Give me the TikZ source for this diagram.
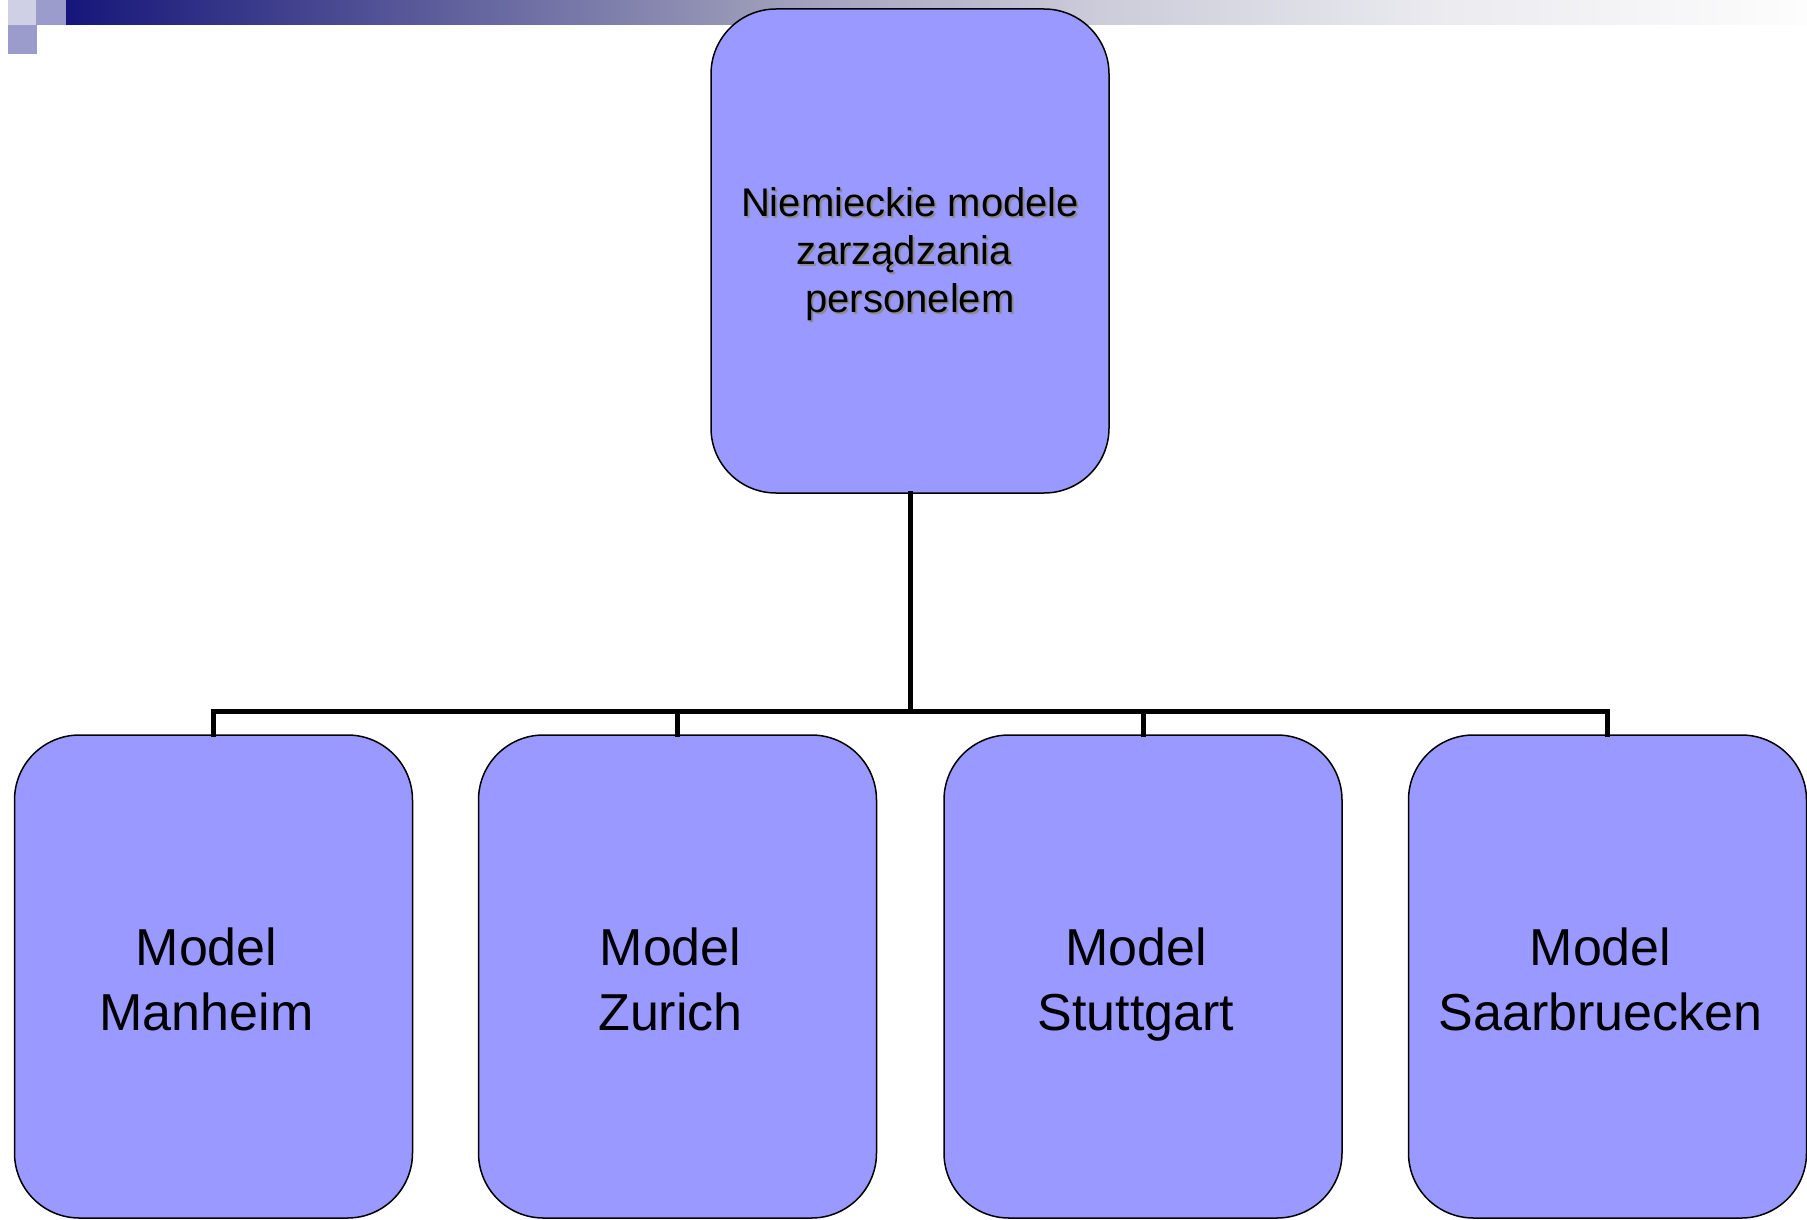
\documentclass[tikz,border=0pt]{standalone}
\usepackage{fontspec}
\setmainfont{Liberation Sans}
\usetikzlibrary{positioning}

% colours of the slide template and the chart
\definecolor{boxfill}{RGB}{153,153,255}
\definecolor{navy}{RGB}{22,22,122}
\definecolor{tileA}{RGB}{207,207,230}
\definecolor{tileB}{RGB}{155,155,204}
\definecolor{barB}{RGB}{155,155,185}
\definecolor{barC}{RGB}{204,204,218}
\definecolor{barD}{RGB}{235,235,240}
\definecolor{barE}{RGB}{253,253,253}

% title bar: navy fading to white (shading spans 25bp..75bp of the path)
\pgfdeclarehorizontalshading{titlebar}{100bp}{%
  color(0bp)=(navy); color(25bp)=(navy); color(44.9bp)=(barB);
  color(54.7bp)=(barC); color(64.7bp)=(barD); color(75bp)=(barE);
  color(100bp)=(barE)}

\tikzset{
  orgbox/.style={draw=black, line width=1.5pt, fill=boxfill,
    rounded corners=65pt, inner sep=0pt, minimum width=398pt},
  rootbox/.style={orgbox, minimum height=484pt},
  leafbox/.style={orgbox, minimum height=483pt},
  roottext/.style={align=center, font=\fontsize{40}{48}\selectfont,
    inner sep=0pt, text depth=0pt},
  leaftext/.style={align=center, font=\fontsize{52}{65}\selectfont,
    inner sep=0pt, text depth=0pt},
  conn/.style={line width=5pt, line join=miter, line cap=rect},
}

\begin{document}
\begin{tikzpicture}[x=1pt, y=-1pt]
  \useasboundingbox (0,0) rectangle (1807,1220);

  % template decoration: tiles and fading bar
  \fill[tileA] (8,0) rectangle (36,25);
  \fill[tileB] (36,0) rectangle (66,25);
  \fill[tileB] (8,25) rectangle (37,54);
  \shade[shading=titlebar] (66,0) rectangle (1807,25);

  % root of the chart
  \node[rootbox] (root) at (910,251) {};
  \node[roottext, text=black!45] (rootshadow) at (912,252.5)
    {Niemieckie modele\\zarządzania\rule{12pt}{0pt}\\personelem};
  \node[roottext] (roottxt) at (910,250.5)
    {Niemieckie modele\\zarządzania\rule{12pt}{0pt}\\personelem};

  % four models
  \node[leafbox] (m1) at (213.5,976.5) {};
  \node[leafbox] (m2) at (677.5,976.5) {};
  \node[leafbox] (m3) at (1143,976.5) {};
  \node[leafbox] (m4) at (1607.5,976.5) {};

  \node[leaftext] (t1) at (206.5,979) {Model\\Manheim};
  \node[leaftext] (t2) at (670.5,979) {Model\\Zurich};
  \node[leaftext] (t3) at (1136,979) {Model\\Stuttgart};
  \node[leaftext] (t4) at (1600.5,979) {Model\\Saarbruecken};

  % connectors
  \coordinate (bus) at (910,711);
  \draw[conn] (root.south) -- (bus);
  \draw[conn] (m1.north) |- (bus);
  \draw[conn] (m2.north) |- (bus);
  \draw[conn] (m3.north) |- (bus);
  \draw[conn] (m4.north) |- (bus);
\end{tikzpicture}
\end{document}
